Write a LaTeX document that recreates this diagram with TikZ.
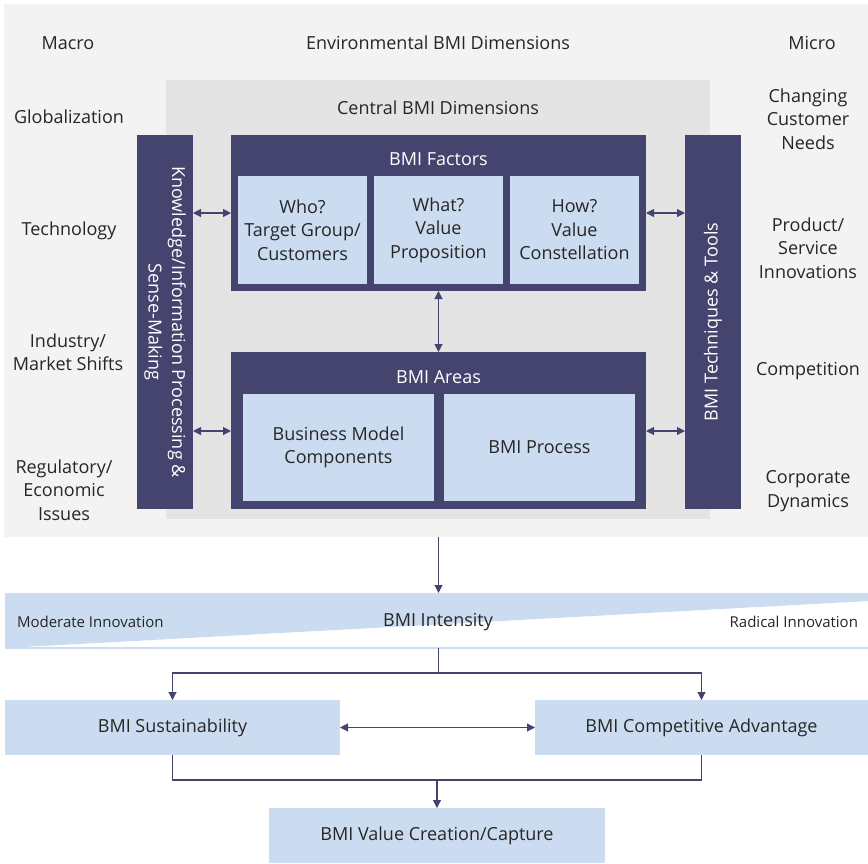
\documentclass[tikz,border=0pt]{standalone}
\usepackage{fontspec}
\setmainfont{Open Sans}
\usetikzlibrary{arrows.meta,positioning,calc}
\definecolor{Navy}{HTML}{45446F}
\definecolor{LightBlue}{HTML}{CBDCF1}
\definecolor{PaleGray}{HTML}{F3F3F3}
\definecolor{MidGray}{HTML}{E4E4E4}
\definecolor{Ink}{HTML}{262626}

\begin{document}
\begin{tikzpicture}[x=1pt,y=-1pt,
  every node/.style={inner sep=0pt,outer sep=0pt,text=Ink},
  txt/.style={align=center,font=\fontsize{18}{23.5}\selectfont},
  smalltxt/.style={font=\fontsize{15}{18}\selectfont},
  whitetxt/.style={txt,text=white},
  navybox/.style={fill=Navy,anchor=north west},
  bluebox/.style={fill=LightBlue,txt,anchor=north west},
  line/.style={draw=Navy,line width=1.1pt},
  arrow/.style={line,-{Triangle[length=8pt,width=8pt]}},
  dblarrow/.style={line,{Triangle[length=8pt,width=8pt]}-{Triangle[length=8pt,width=8pt]}}
]
\useasboundingbox (0,0) rectangle (868,863);
% environment
\node[fill=PaleGray,anchor=north west,minimum width=864,minimum height=533] (envbg) at (4,4) {};
\node[fill=MidGray,anchor=north west,minimum width=544,minimum height=439] (centralbg) at (166,80) {};
\node[txt] (macro) at (68,43) {Macro};
\node[txt] (envtitle) at (438,43) {Environmental BMI Dimensions};
\node[txt] (micro) at (812,43) {Micro};
\node[txt] (centraltitle) at (438,108) {Central BMI Dimensions};
\node[txt] (globalization) at (69,117) {Globalization};
\node[txt] (technology) at (69,231) {Technology};
\node[txt] (industry) at (68,352) {Industry/\\Market Shifts};
\node[txt] (regulatory) at (64,490) {Regulatory/\\Economic\\Issues};
\node[txt] (customerneeds) at (808,119) {Changing\\Customer\\Needs};
\node[txt] (innovations) at (808,248) {Product/\\Service\\Innovations};
\node[txt] (competition) at (808,371) {Competition};
\node[txt] (dynamics) at (808,491) {Corporate\\Dynamics};

% side bars
\node[navybox,minimum width=56,minimum height=374] (knowbar) at (137,135) {};
\node[navybox,minimum width=56,minimum height=374] (toolbar) at (685,135) {};
\node[whitetxt,rotate=-90] at (knowbar.center) {Knowledge/Information Processing \&\\Sense-Making};
\node[whitetxt,rotate=90] at (toolbar.center) {BMI Techniques \& Tools};

% factors
\node[navybox,minimum width=415,minimum height=156] (factors) at (231,135) {};
\node[whitetxt] (factorstitle) at (438.5,159) {BMI Factors};
\node[bluebox,minimum width=129,minimum height=108] (who) at (238,176) {Who?\\Target Group/\\Customers};
\node[bluebox,minimum width=129,minimum height=108,right=7pt of who,anchor=west] (what) {What?\\Value\\Proposition};
\node[bluebox,minimum width=129,minimum height=108,right=7pt of what,anchor=west] (how) {How?\\Value\\Constellation};

% areas
\node[navybox,minimum width=415,minimum height=157] (areas) at (231,352) {};
\node[whitetxt] (areastitle) at (438.5,377) {BMI Areas};
\node[bluebox,minimum width=191,minimum height=107] (components) at (243,394) {Business Model\\Components};
\node[bluebox,minimum width=191,minimum height=107,right=10pt of components,anchor=west] (process) {BMI Process};

\coordinate (factorrow) at (0,213);
\coordinate (arearow) at (0,431);
\draw[dblarrow] (knowbar.east |- factorrow) -- (factors.west |- factorrow);
\draw[dblarrow] (factors.east |- factorrow) -- (toolbar.west |- factorrow);
\draw[dblarrow] (knowbar.east |- arearow) -- (areas.west |- arearow);
\draw[dblarrow] (areas.east |- arearow) -- (toolbar.west |- arearow);
\draw[dblarrow] (factors.south) -- (areas.north);

% intensity
\node[anchor=north west,minimum width=863,minimum height=55] (intensity) at (5,593) {};
\fill[LightBlue] (intensity.north west) -- (intensity.north east) -- ($(intensity.north east)+(0,8)$) -- (intensity.south west) -- cycle;
\draw[LightBlue,line width=2pt] (intensity.south west) -- (intensity.south east);
\node[smalltxt,anchor=west] (moderate) at (17,622) {Moderate Innovation};
\node[txt] (intensitytitle) at (438,622) {BMI Intensity};
\node[smalltxt,anchor=east] (radical) at (858,622) {Radical Innovation};
\draw[arrow] (envbg.south -| factors.south) -- (intensity.north -| factors.south);

% outcomes
\node[bluebox,minimum width=335,minimum height=55] (sustain) at (5,700) {BMI Sustainability};
\node[bluebox,minimum width=333,minimum height=55] (compadv) at (535,700) {BMI Competitive Advantage};
\node[bluebox,minimum width=336,minimum height=55] (value) at (269,808) {BMI Value Creation/Capture};
\coordinate (split) at ($(intensity.south -| factors.south)+(0,25)$);
\coordinate (merge) at ($(value.north)+(0,-28)$);
\draw[line] (intensity.south -| factors.south) -- (split);
\draw[arrow] (split) -| (sustain.north);
\draw[arrow] (split) -| (compadv.north);
\draw[dblarrow] (sustain) -- (compadv);
\draw[line] (sustain.south) |- (merge) -| (compadv.south);
\draw[arrow] (merge) -- (value.north);
\end{tikzpicture}
\end{document}
